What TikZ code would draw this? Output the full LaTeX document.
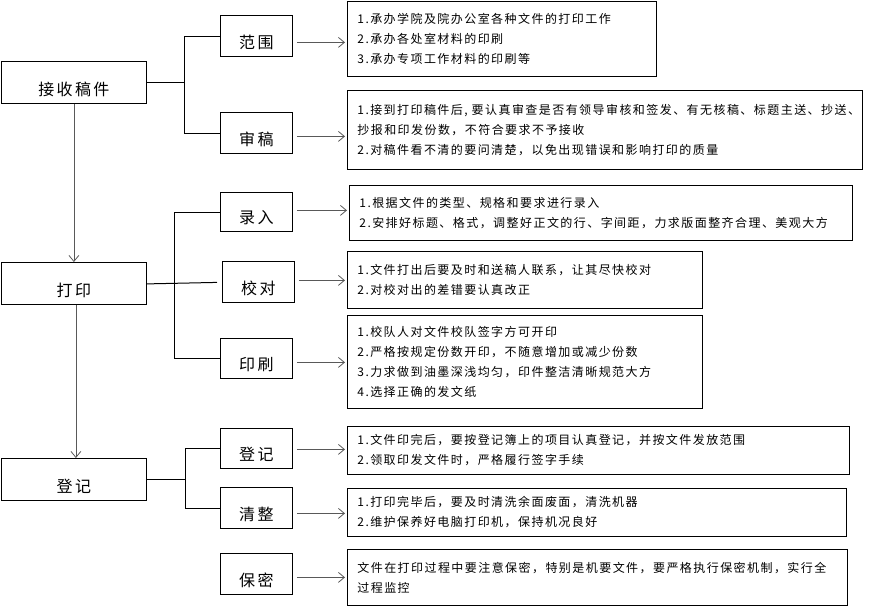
\documentclass[tikz,border=0pt]{standalone}
\usepackage{fontspec}
\setmainfont{Noto Sans CJK SC}
\newfontfamily\biglabel[LetterSpace=15]{Noto Sans CJK SC}
\newfontfamily\smalltext[LetterSpace=12]{Noto Sans CJK SC}
\usetikzlibrary{arrows.meta,calc}
\begin{document}
\begin{tikzpicture}[x=1pt, y=-1pt, >={Straight Barb[length=6pt,width=10pt]},
    mainbox/.style={draw, line width=.8pt, anchor=north west, inner sep=0pt,
        minimum width=145pt, text height=34pt, text depth=8pt,
        font=\biglabel\fontsize{16}{16}\selectfont},
    subbox/.style={draw, line width=.8pt, anchor=north west, inner sep=0pt,
        minimum width=72pt, text height=33pt, text depth=8pt,
        font=\biglabel\fontsize{16}{16}\selectfont},
    detailbox/.style={draw, line width=.8pt, anchor=north west, inner xsep=10pt,
        inner ysep=0pt, align=left, font=\smalltext\fontsize{12}{20}\selectfont},
    link/.style={->, gray!70!black, line width=.8pt}]
\useasboundingbox (0,0) rectangle (878,606);
% main steps
\node[mainbox] (jieshou) at (1,61) {接收稿件};
\node[mainbox] (dayin) at (1,262) {打印};
\node[mainbox] (dengji) at (1,458) {登记};
% sub steps
\node[subbox] (fanwei) at (220,15) {范围};
\node[subbox] (shengao) at (220,112) {审稿};
\node[subbox, text height=31pt] (luru) at (220,192) {录入};
\node[subbox] (jiaodui) at (222,261) {校对};
\node[subbox, text height=32pt] (yinshua) at (220,338) {印刷};
\node[subbox, text height=32pt] (dengjisub) at (220,428) {登记};
\node[subbox] (qingzheng) at (220,487) {清整};
\node[subbox] (baomi) at (220,553) {保密};
% details
\node[detailbox, text width=289pt, minimum height=75pt] (fanweitxt) at (347,1)
    {1.承办学院及院办公室各种文件的打印工作\\2.承办各处室材料的印刷\\3.承办专项工作材料的印刷等};
\node[detailbox, text width=495pt, minimum height=79pt] (shengaotxt) at (347,90)
    {1.接到打印稿件后, 要认真审查是否有领导审核和签发、有无核稿、标题主送、抄送、\\抄报和印发份数，不符合要求不予接收\\2.对稿件看不清的要问清楚，以免出现错误和影响打印的质量};
\node[detailbox, text width=483pt, minimum height=55pt] (lurutxt) at (349,185)
    {1.根据文件的类型、规格和要求进行录入\\2.安排好标题、格式，调整好正文的行、字间距，力求版面整齐合理、美观大方};
\node[detailbox, text width=335pt, minimum height=57pt] (jiaoduitxt) at (347,251)
    {1.文件打出后要及时和送稿人联系，让其尽快校对\\2.对校对出的差错要认真改正};
\node[detailbox, text width=335pt, minimum height=93pt] (yinshuatxt) at (347,315)
    {1.校队人对文件校队签字方可开印\\2.严格按规定份数开印，不随意增加或减少份数\\3.力求做到油墨深浅均匀，印件整洁清晰规范大方\\4.选择正确的发文纸};
\node[detailbox, text width=482pt, minimum height=48pt] (dengjitxt) at (347,426)
    {1.文件印完后，要按登记簿上的项目认真登记，并按文件发放范围\\2.领取印发文件时，严格履行签字手续};
\node[detailbox, text width=479pt, minimum height=48pt] (qingzhengtxt) at (347,488)
    {1.打印完毕后，要及时清洗余面废面，清洗机器\\2.维护保养好电脑打印机，保持机况良好};
\node[detailbox, text width=480pt, minimum height=56pt] (baomitxt) at (347,549)
    {文件在打印过程中要注意保密，特别是机要文件，要严格执行保密机制，实行全\\过程监控};

\draw[link] (jieshou.south) -- (dayin.north);
\draw[link] ([xshift=2pt]dayin.south) -- ([xshift=2pt]dengji.north);

\draw (jieshou.east) -- ++(38,0);
\draw (fanwei.west) -- ++(-36,0) |- (shengao.west);
\draw[line width=1pt] ([yshift=-.5pt]dayin.east) -- ([xshift=-5pt,yshift=-.5pt]jiaodui.west);
\draw (luru.west) -- ++(-46,0) |- (yinshua.west);
\draw (dengji.east) -- ++(38,0);
\draw (dengjisub.west) -- ++(-35,0) |- (qingzheng.west);

\foreach \s/\d/\dy in {fanwei/fanweitxt/6.5, shengao/shengaotxt/3.5,
    luru/lurutxt/-1.5, jiaodui/jiaoduitxt/-1.5, yinshua/yinshuatxt/4,
    dengjisub/dengjitxt/1, qingzheng/qingzhengtxt/5.5, baomi/baomitxt/3.5}
{
    \draw[link, shorten <=4pt, shorten >=2pt] ($(\s.east)+(0,\dy)$) -- ($(\s.east -| \d.west)+(0,\dy)$);
}
\end{tikzpicture}
\end{document}
